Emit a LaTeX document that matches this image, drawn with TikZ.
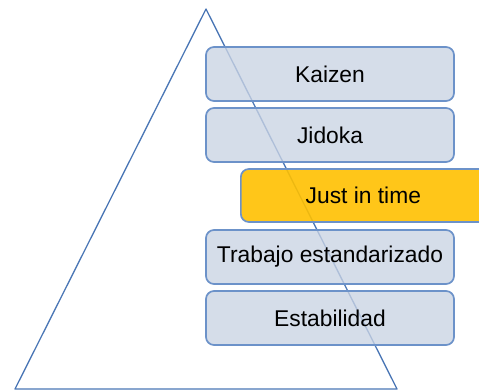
\documentclass[tikz,border=0pt]{standalone}
\usepackage{fontspec}
\setmainfont{Liberation Sans}
\definecolor{trianglecol}{HTML}{4A76B5}
\definecolor{boxedge}{HTML}{6C92C9}
\definecolor{boxfill}{HTML}{C9D3E3}
\definecolor{jitfill}{HTML}{FFC000}
\begin{document}
\begin{tikzpicture}[x=1pt,y=-1pt,
  level/.style={draw=boxedge, line width=1.7pt, rounded corners=8pt,
    fill=boxfill, fill opacity=0.78, text opacity=1,
    font=\fontsize{22.8}{26}\selectfont, inner sep=0pt},
  focus/.style={level, fill=jitfill, fill opacity=0.9}]
\useasboundingbox (0,0) rectangle (479,390);
% pyramid outline
\draw[trianglecol, line width=1.3pt, line join=round]
  (206,9) coordinate (apex) -- (15,389) coordinate (bl) -- (397,389) coordinate (br) -- cycle;
% levels of the pyramid
\node[level, minimum width=248pt, minimum height=54pt] (kaizen) at (330,74) {Kaizen};
\node[level, minimum width=248pt, minimum height=54pt] (jidoka) at (330,135) {Jidoka};
\node[focus, minimum width=252pt, minimum height=53pt, anchor=west] (jit) at (240,195.5) {\hspace*{-7pt}Just in time};
\node[level, minimum width=248pt, minimum height=54pt] (trabajo) at (330,257) {Trabajo estandarizado};
\node[level, minimum width=248pt, minimum height=54pt] (estab) at (330,318) {Estabilidad};
\end{tikzpicture}
\end{document}
